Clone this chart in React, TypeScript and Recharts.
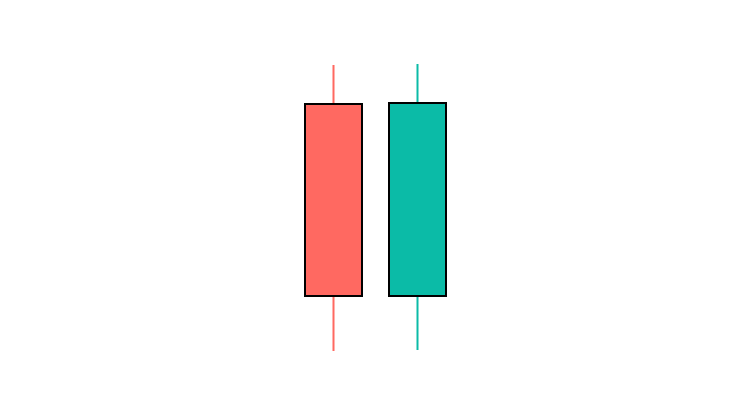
import React from 'react';
import { ComposedChart, Bar, XAxis, YAxis } from 'recharts';

const categories = ['A', 'B'];
const opens = [262, 70];
const closes = [70, 263];
const highs = [301, 302];
const lows = [15, 16];

const UP_COLOR = '#0BBBA7';
const DOWN_COLOR = '#FF6961';

const data = categories.map((name, i) => ({
  name,
  open: opens[i],
  close: closes[i],
  high: highs[i],
  low: lows[i],
  range: [lows[i], highs[i]],
}));

function Candle(props: any) {
  const { x, y, width, height, payload } = props;
  const { open, close, high, low } = payload;
  const ratio = height / (high - low);
  const color = close >= open ? UP_COLOR : DOWN_COLOR;
  const top = y + (high - Math.max(open, close)) * ratio;
  const bodyH = Math.abs(open - close) * ratio;
  const cx = x + width / 2;
  return (
    <g>
      <line x1={cx} x2={cx} y1={y} y2={y + height} stroke={color} strokeWidth={2} />
      <rect x={x} y={top} width={width} height={bodyH} fill={color} stroke="#000" strokeWidth={2} />
    </g>
  );
}

export default function App() {
  return (
    <div style={{ width: 750, height: 416, background: '#fff' }}>
      <style>{'body{margin:0}'}</style>
      <ComposedChart
        width={750}
        height={416}
        data={data}
        margin={{ top: 50, right: 291, bottom: 50, left: 291 }}
      >
        <XAxis dataKey="name" hide />
        <YAxis domain={[0, 316]} hide />
        <Bar dataKey="range" barSize={57} shape={<Candle />} isAnimationActive={false} />
      </ComposedChart>
    </div>
  );
}
